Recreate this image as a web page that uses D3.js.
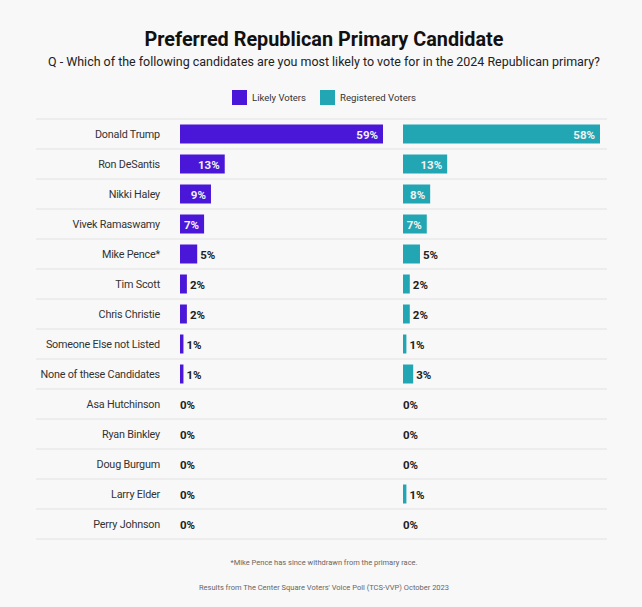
<!DOCTYPE html>
<html><head><meta charset="utf-8">
<script src="https://cdn.jsdelivr.net/npm/d3@7"></script>
<style>
html,body{margin:0;padding:0;background:#f8f8f8;}
svg{display:block;font-family:Roboto,"Noto Sans",sans-serif;}
</style></head>
<body><svg id="chart" width="642" height="607"></svg>
<script>
const categories = ["Donald Trump","Ron DeSantis","Nikki Haley","Vivek Ramaswamy","Mike Pence*","Tim Scott","Chris Christie","Someone Else not Listed","None of these Candidates","Asa Hutchinson","Ryan Binkley","Doug Burgum","Larry Elder","Perry Johnson"];
const likelyVoters = [59,13,9,7,5,2,2,1,1,0,0,0,0,0];
const registeredVoters = [58,13,8,7,5,2,2,1,3,0,0,0,1,0];
const seriesNames = ["Likely Voters","Registered Voters"];
const colors = ["#4a16d8","#23a6b3"];

const svg = d3.select("#chart");
svg.append("rect").attr("width",642).attr("height",607).attr("fill","#f8f8f8");

svg.append("text").attr("x",324).attr("y",46).attr("text-anchor","middle")
  .attr("font-size",20).attr("font-weight",700).attr("fill","#111")
  .attr("textLength",359).attr("lengthAdjust","spacingAndGlyphs")
  .text("Preferred Republican Primary Candidate");
svg.append("text").attr("x",324).attr("y",66).attr("text-anchor","middle")
  .attr("font-size",12.5).attr("fill","#222")
  .attr("textLength",552).attr("lengthAdjust","spacingAndGlyphs")
  .text("Q - Which of the following candidates are you most likely to vote for in the 2024 Republican primary?");

// legend
const legX = [232,320], legW=[54,76];
seriesNames.forEach((n,i)=>{
  svg.append("rect").attr("x",legX[i]).attr("y",90).attr("width",15).attr("height",15).attr("fill",colors[i]);
  svg.append("text").attr("x",legX[i]+20).attr("y",101).attr("font-size",9.5).attr("fill","#333")
    .attr("textLength",legW[i]).attr("lengthAdjust","spacingAndGlyphs").text(n);
});

const y = d3.scaleBand().domain(categories).range([119,539]).padding(0);
const xL = d3.scaleLinear().domain([0,59]).range([180,383]);
const xR = d3.scaleLinear().domain([0,58]).range([403,600]);
const barH = 19;

// grid lines
const lines = [119].concat(categories.map(c=>y(c)+y.bandwidth()));
svg.selectAll("line.grid").data(lines).join("line")
  .attr("x1",36).attr("x2",607).attr("y1",d=>d).attr("y2",d=>d)
  .attr("stroke","#e2e2e2").attr("stroke-width",1);

// category labels
svg.selectAll("text.cat").data(categories).join("text")
  .attr("x",160).attr("y",c=>y(c)+y.bandwidth()/2+4).attr("text-anchor","end")
  .attr("font-size",10.8).attr("fill","#333").attr("letter-spacing",-0.2).text(c=>c);

function drawSeries(vals,x,color){
  const g = svg.append("g");
  g.selectAll("rect").data(vals.map((v,i)=>({v,c:categories[i]})).filter(d=>d.v>0)).join("rect")
    .attr("x",x(0)).attr("y",d=>y(d.c)+(y.bandwidth()-barH)/2).attr("width",d=>x(d.v)-x(0)).attr("height",barH)
    .attr("fill",color);
  g.selectAll("text").data(vals.map((v,i)=>({v,c:categories[i]}))).join("text")
    .attr("x",d=> d.v>=7 ? x(d.v)-5 : (d.v>0 ? x(d.v)+3 : x(0)))
    .attr("text-anchor",d=> d.v>=7 ? "end":"start")
    .attr("y",d=>y(d.c)+y.bandwidth()/2+4.5)
    .attr("font-size",11.5).attr("font-weight",700)
    .attr("fill",d=> d.v>=7 ? "#f2f2f2" : "#222")
    .text(d=>d.v+"%");
}
drawSeries(likelyVoters,xL,colors[0]);
drawSeries(registeredVoters,xR,colors[1]);

svg.append("text").attr("x",324).attr("y",565).attr("text-anchor","middle")
  .attr("font-size",7.5).attr("fill","#666").attr("textLength",187).attr("lengthAdjust","spacingAndGlyphs")
  .text("*Mike Pence has since withdrawn from the primary race.");
svg.append("text").attr("x",324).attr("y",590).attr("text-anchor","middle")
  .attr("font-size",7.5).attr("fill","#666").attr("textLength",250).attr("lengthAdjust","spacingAndGlyphs")
  .text("Results from The Center Square Voters' Voice Poll (TCS-VVP) October 2023");
</script></body></html>
